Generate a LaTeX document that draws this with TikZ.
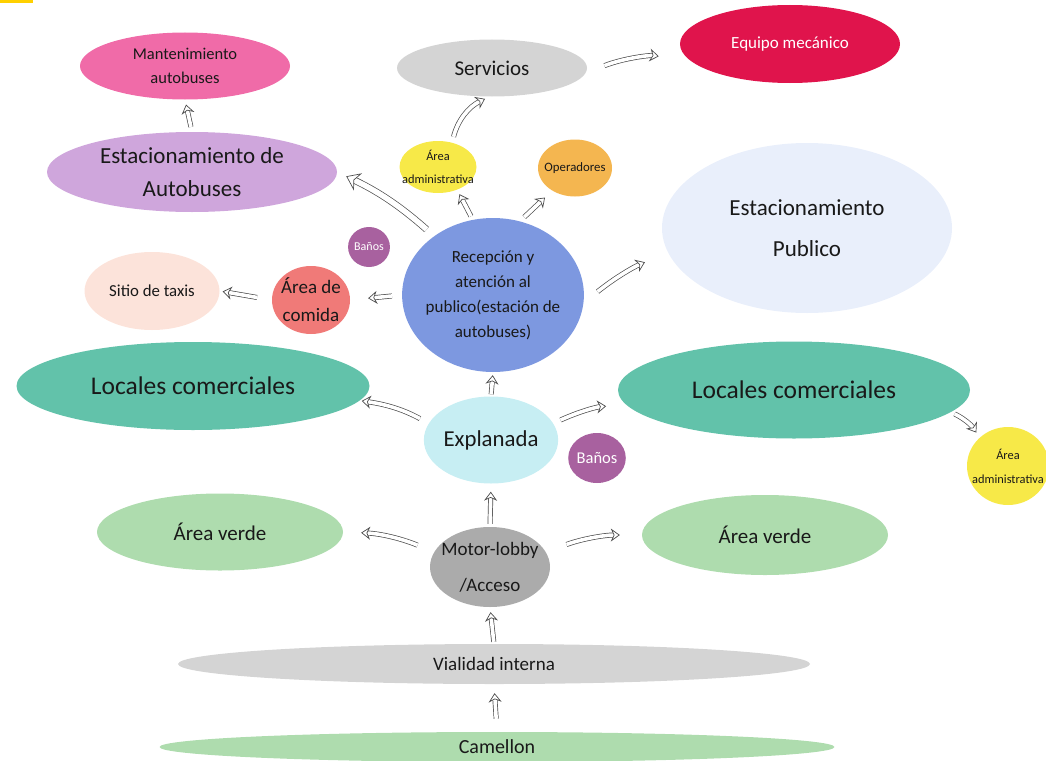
\documentclass[tikz,border=0pt]{standalone}
\usepackage{fontspec}
\setmainfont{Carlito}
\usepackage{tikz}
\usetikzlibrary{arrows.meta,shapes.geometric}
\usepackage{xcolor}
\definecolor{marca}{HTML}{FFD000}
\definecolor{rosa}{HTML}{F06BA8}
\definecolor{lila}{HTML}{CFA6DC}
\definecolor{grisclaro}{HTML}{D4D4D4}
\definecolor{grismedio}{HTML}{ABABAB}
\definecolor{rojo}{HTML}{E0144C}
\definecolor{amarillo}{HTML}{F7E948}
\definecolor{naranja}{HTML}{F4B650}
\definecolor{azulpalido}{HTML}{E9EFFB}
\definecolor{morado}{HTML}{A8619F}
\definecolor{salmon}{HTML}{F07A78}
\definecolor{durazno}{HTML}{FCE3DA}
\definecolor{azul}{HTML}{7D98E0}
\definecolor{turquesa}{HTML}{62C2AA}
\definecolor{celeste}{HTML}{C7EEF3}
\definecolor{verde}{HTML}{AEDCAE}
\newcommand{\tam}[2]{\fontsize{#1}{#2}\selectfont}

\begin{document}
\begin{tikzpicture}[x=1pt, y=-1pt,
  zona/.style={ellipse, inner sep=0pt, align=center, text=black!90},
  flecha/.style={draw=black!70, line width=0.7pt, double=white,
    double distance=3.6pt,
    -{Stealth[length=9pt, width=13pt, fill=white, line width=0.7pt]}},
  flechaG/.style={flecha, double distance=5.5pt,
    -{Stealth[length=13pt, width=19pt, fill=white, line width=0.7pt]}}]
\useasboundingbox (0,0) rectangle (1046,760);
\clip (0,0) rectangle (1046,760);
\fill[marca] (0,0) rectangle (33,3);

% zonas
\node (mant) [zona, fill=rosa, minimum width=210pt, minimum height=67pt,
  font=\tam{16.5}{24}] at (185,66) {Mantenimiento\\autobuses};
\node (estacBus) [zona, fill=lila, minimum width=290pt, minimum height=80pt,
  font=\tam{23}{33}] at (192,172) {Estacionamiento de\\Autobuses};
\node (serv) [zona, fill=grisclaro, minimum width=190pt, minimum height=57pt,
  font=\tam{21}{24}] at (492,68) {Servicios};
\node (equipo) [zona, fill=rojo, text=white, minimum width=220pt,
  minimum height=78pt, font=\tam{17}{20}] at (790,44) {Equipo mecánico};
\node (admSup) [zona, fill=amarillo, inner xsep=-9pt, minimum width=77pt,
  minimum height=52pt, font=\tam{12.4}{23}] at (438,167)
  {Área\\administrativa};
\node (oper) [zona, fill=naranja, inner xsep=-5pt, minimum width=74pt,
  minimum height=57pt, font=\tam{12.8}{15}] at (575,168) {Operadores};
\node (estacPub) [zona, fill=azulpalido, minimum width=290pt,
  minimum height=170pt, font=\tam{23}{41}] at (807,228)
  {Estacionamiento\\Publico};
\node (banoSup) [zona, fill=morado, text=white!90, minimum size=40pt,
  font=\tam{12}{14}] at (369,247) {Baños};
\node (comida) [zona, fill=salmon, inner xsep=-8pt, inner ysep=-4pt,
  minimum width=78pt, minimum height=68pt, font=\tam{19}{28}] at (311,300)
  {Área de\\comida};
\node (taxis) [zona, fill=durazno, minimum width=135pt, minimum height=78pt,
  font=\tam{16.8}{19}] at (152,291) {Sitio de taxis};
\node (recep) [zona, fill=azul, inner xsep=-3pt, inner ysep=-4pt,
  minimum width=180pt, minimum height=154pt, font=\tam{17}{25}] at (493,295)
  {Recepción y\\atención al\\publico(estación de\\autobuses)};
\node (locIzq) [zona, fill=turquesa, minimum width=353pt, minimum height=88pt,
  font=\tam{25.5}{28}] at (193,386) {Locales comerciales};
\node (locDer) [zona, fill=turquesa, minimum width=352pt, minimum height=97pt,
  font=\tam{25.5}{28}] at (794,390) {Locales comerciales};
\node (admDer) [zona, fill=amarillo, inner xsep=-9pt, minimum width=82pt,
  minimum height=78pt, font=\tam{12.4}{24}] at (1008,466)
  {Área\\administrativa};
\node (expl) [zona, fill=celeste, minimum width=128pt, minimum height=87pt,
  font=\tam{22.8}{26}] at (491,440) {Explanada};
\node (banoInf) [zona, fill=morado, text=white!90, minimum width=53pt,
  minimum height=50pt, font=\tam{16.5}{18}] at (597,458) {Baños};
\node (verdeIzq) [zona, fill=verde, minimum width=246pt, minimum height=77pt,
  font=\tam{21}{24}] at (220,532) {Área verde};
\node (verdeDer) [zona, fill=verde, minimum width=246pt, minimum height=80pt,
  font=\tam{21}{24}] at (765,535) {Área verde};
\node (motor) [zona, fill=grismedio, inner xsep=-8pt, inner ysep=-6pt,
  minimum width=120pt, minimum height=80pt, font=\tam{19}{36}] at (490,567)
  {Motor-lobby\\/Acceso};
\node (vial) [zona, fill=grisclaro, minimum width=632pt, minimum height=40pt,
  font=\tam{19}{21}] at (494,664) {Vialidad interna};
\node (camellon) [zona, fill=verde, minimum width=675pt, minimum height=30pt,
  font=\tam{20}{22}] at (497,747) {Camellon};

% flechas
\draw[flecha, shorten <=5pt, shorten >=5pt] (estacBus.north) -- (mant.south);
\draw[flecha, shorten <=6pt, shorten >=5pt]
  (admSup.60) to[bend left=25] (serv.-95);
\draw[flecha, shorten <=20pt, shorten >=33pt]
  (serv.-3) to[bend left=15] (equipo.190);
\draw[flechaG, shorten <=10pt, shorten >=10pt]
  (recep.135) to[bend right=8] (estacBus.east);
\draw[flecha, shorten <=4pt, shorten >=5pt] (recep.105) -- (admSup.-50);
\draw[flecha, shorten <=6pt, shorten >=10pt] (recep.70) -- (oper.-135);
\draw[flecha, shorten <=18pt, shorten >=25pt]
  (recep.-5) to[bend left=8] (estacPub.190);
\draw[flecha, shorten <=10pt, shorten >=18pt] (recep.west) -- (comida.east);
\draw[flecha, shorten <=15pt, shorten >=3pt] (comida.west) -- (taxis.east);
\draw[flecha, shorten <=2pt, shorten >=3pt] (expl.north) -- (recep.south);
\draw[flecha, shorten <=10pt, shorten >=2pt]
  (expl.165) to[bend right=10] (locIzq.-5);
\draw[flecha, shorten <=8pt, shorten >=20pt]
  (expl.15) to[bend left=10] (locDer.185);
\draw[flecha, shorten <=4pt, shorten >=6pt]
  (locDer.-8) to[bend left=15] (admDer.135);
\draw[flecha, shorten <=3pt, shorten >=8pt] (motor.north) -- (expl.south);
\draw[flecha, shorten <=18pt, shorten >=18pt]
  (motor.165) to[bend right=10] (verdeIzq.east);
\draw[flecha, shorten <=22pt, shorten >=22pt]
  (motor.15) to[bend left=10] (verdeDer.west);
\draw[flecha, shorten <=2pt, shorten >=5pt] (vial.north) -- (motor.south);
\draw[flecha, shorten <=13pt, shorten >=9pt] (camellon.north) -- (vial.south);
\end{tikzpicture}
\end{document}
